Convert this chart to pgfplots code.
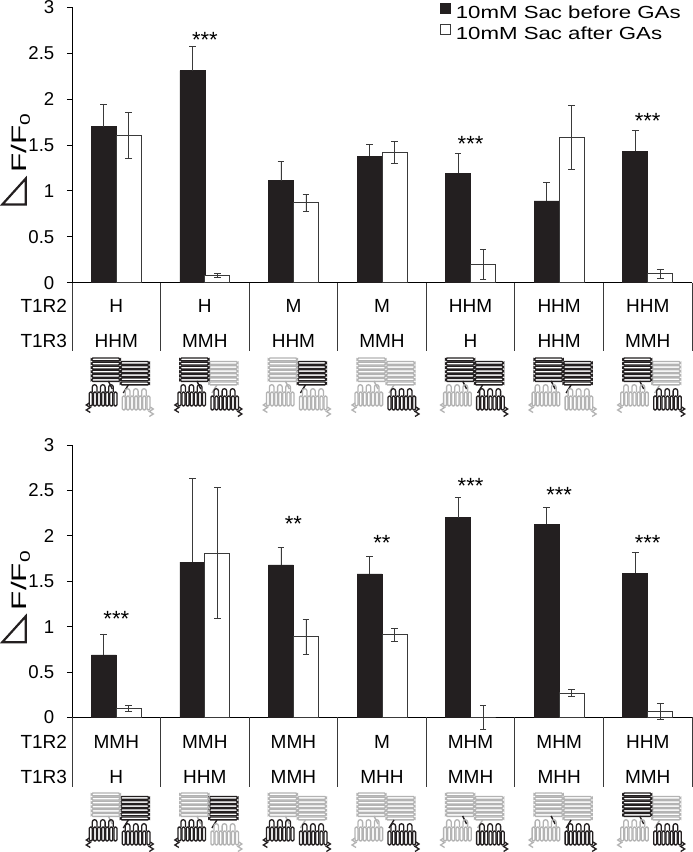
\documentclass[border=0pt]{standalone}
\usepackage{pgfplots}
\usepackage{pgfplotstable}
\pgfplotsset{compat=1.18}
\usepackage{fontspec}
\setmainfont{Liberation Sans}
\newfontfamily\ylabfont[FakeStretch=1.5]{Liberation Sans}
\newfontfamily\legfont[FakeStretch=1.27]{Liberation Sans}

\definecolor{hc}{HTML}{231F20}
\definecolor{mc}{HTML}{B3B3B3}
\definecolor{ec}{HTML}{3A3A3A}

\newcommand{\ylab}{{\ylabfont\fontsize{21}{21}\selectfont F/F\raisebox{-3.5pt}{\fontsize{14}{14}\selectfont 0}}}
\newcommand{\starfont}{\fontsize{22}{22}\selectfont}
\newcommand{\tabfont}{\fontsize{19}{19}\selectfont}

\pgfplotstableread{
x b be w we
0 1.70 0.24 1.60 0.25
1 2.31 0.26 0.08 0.02
2 1.11 0.21 0.87 0.09
3 1.38 0.13 1.42 0.12
4 1.19 0.22 0.20 0.16
5 0.89 0.20 1.58 0.35
6 1.43 0.23 0.10 0.05
}\topdata

\pgfplotstableread{
x b be w we
0 0.69 0.23 0.10 0.03
1 1.71 0.92 1.81 0.72
2 1.68 0.19 0.89 0.19
3 1.58 0.19 0.91 0.07
4 2.20 0.22 0.00 0.13
5 2.13 0.18 0.27 0.04
6 1.59 0.23 0.07 0.09
}\botdata

\pgfplotsset{
  panel/.style={
    scale only axis, width=620pt, anchor=south west,
    xmin=-0.5, xmax=6.5, ymin=0, ymax=3,
    ybar=0pt, bar width=25pt,
    axis x line*=bottom, axis y line*=left,
    x axis line style={-, line width=0.9pt, black},
    y axis line style={-, line width=0.9pt, black},
    xtick=\empty,
    ytick={0,0.5,1,1.5,2,2.5,3},
    yticklabels={0,0.5,1,1.5,2,2.5,3},
    tick align=outside, major tick length=5pt,
    ytick style={line width=0.9pt, black},
    yticklabel style={font=\fontsize{18.6}{19}\selectfont, inner sep=0pt, xshift=-12.5pt},
    ylabel={\ylab},
    clip=false,
  },
  sqleg/.style={legend image code/.code={\draw[##1, line width=0.7pt] (0pt,-1pt) rectangle (10pt,9pt);}},
  blk/.style={sqleg, fill=hc, draw=hc, line width=0.6pt,
    /pgfplots/error bars/y dir=plus, /pgfplots/error bars/y explicit,
    /pgfplots/error bars/error bar style={line width=0.8pt, ec},
    /pgfplots/error bars/error mark options={rotate=90, mark size=3.3pt, line width=0.8pt, ec}},
  wht/.style={sqleg, fill=white, draw=ec, line width=0.8pt,
    /pgfplots/error bars/y dir=both, /pgfplots/error bars/y explicit,
    /pgfplots/error bars/error bar style={line width=0.8pt, ec},
    /pgfplots/error bars/error mark options={rotate=90, mark size=3.3pt, line width=0.8pt, ec}},
}

% cartoon pieces (relative coordinates, pt)
\newcommand{\vft}[3]{% x0, y0, colour
  \foreach \k in {0,...,5}{\draw[#3, line width=1.4pt, fill=white, rounded corners=1.6pt] (#1,#2-4.1*\k) rectangle (#1+29,#2-4.1*\k-2.9);}}
\newcommand{\tmd}[3]{% x0, ytop of helices, colour
  \foreach \k in {0,2,4}{\draw[#3, line width=1.3pt] (#1+4.1*\k+3,#2) -- (#1+4.1*\k+3,#2+5) arc (180:0:2.3) -- (#1+4.1*\k+7.6,#2);}
  \foreach \k in {0,...,6}{\draw[#3, line width=1.3pt, fill=white, rounded corners=1.2pt] (#1+4.1*\k,#2) rectangle (#1+4.1*\k+3,#2-14);}}
\newcommand{\rcpt}[8]{% cx, ty, lV, lC, lT, rV, rC, rT
  \begin{scope}[shift={(#1,#2)}]
    \vft{4}{-3.5}{#6}
    \vft{-25}{0}{#3}
    \draw[#4, line width=1.4pt] (-8,-23) -- (-4,-31);
    \draw[#7, line width=1.4pt] (12,-27) -- (7,-35);
    \tmd{-27}{-34}{#5}
    \draw[#5, line width=1.3pt] (-27,-45) -- (-30,-47) -- (-26,-49.5) -- (-30,-52) -- (-26,-54.5);
    \tmd{6}{-38}{#8}
    \draw[#8, line width=1.3pt] (34,-49) -- (37,-51) -- (33,-53.5) -- (37,-56) -- (33,-58.5);
  \end{scope}}
% triangle of the "Delta F" label; (x,y) = right-angle corner
\newcommand{\ltri}[2]{\draw[line width=2.2pt, hc, line join=miter] (#1,#2) -- (#1,#2+26) -- (#1-23.5,#2) -- cycle;}

\begin{document}
\begin{tikzpicture}[x=1pt,y=1pt]
\path[use as bounding box] (0,0) rectangle (693,852);

% ---------------- top panel ----------------
\begin{axis}[panel, at={(72pt,569.3pt)}, height=275.4pt,
  every axis y label/.style={at={(axis description cs:-0.0734,0.3874)}, rotate=90, anchor=base west},
  legend style={at={(axis description cs:0.5935,1.0156)}, anchor=north west,
    draw=none, fill=none, inner sep=0pt, row sep=4.5pt, column sep=5pt,
    font=\legfont\fontsize{17.5}{20}\selectfont, nodes={inner sep=0pt}},
  legend cell align=left]
\addplot[blk] table[x=x, y=b, y error=be]{\topdata};
\addplot[wht] table[x=x, y=w, y error=we]{\topdata};
\legend{10mM Sac before GAs, 10mM Sac after GAs}
\node[font=\starfont] at (axis cs:1,2.68) [yshift=-3pt] {***};
\node[font=\starfont] at (axis cs:4,1.54) [yshift=-3pt] {***};
\node[font=\starfont] at (axis cs:6,1.80) [yshift=-3pt] {***};
\end{axis}
\ltri{25.8}{852-204.5}

% table for top panel
\foreach \i in {0,...,7}{\draw[line width=0.9pt, ec] ({72+88.571*\i},569.3) -- ++(0,-68.5);}
\node[anchor=base east, font=\tabfont] at (70.5,{852-312.7}) {T1R2};
\node[anchor=base east, font=\tabfont] at (70.5,{852-347.4}) {T1R3};
\foreach \i/\a/\b in {0/H/HHM,1/H/MMH,2/M/HHM,3/M/MMH,4/HHM/H,5/HHM/HHM,6/HHM/MMH}{
  \node[anchor=base, font=\tabfont] at ({72+88.571*(\i+0.5)},{852-312.7}) {\a};
  \node[anchor=base, font=\tabfont] at ({72+88.571*(\i+0.5)},{852-347.4}) {\b};
}
% cartoons top
\rcpt{116.3}{494}{hc}{hc}{hc}{hc}{hc}{mc}
\rcpt{204.9}{494}{hc}{hc}{hc}{mc}{mc}{hc}
\rcpt{293.4}{494}{mc}{mc}{mc}{hc}{hc}{mc}
\rcpt{382.0}{494}{mc}{mc}{mc}{mc}{mc}{hc}
\rcpt{470.6}{494}{hc}{hc}{mc}{hc}{hc}{hc}
\rcpt{559.1}{494}{hc}{hc}{mc}{hc}{hc}{mc}
\rcpt{647.7}{494}{hc}{hc}{mc}{mc}{mc}{hc}

% ---------------- bottom panel ----------------
\begin{axis}[panel, at={(72pt,134.5pt)}, height=272.5pt,
  every axis y label/.style={at={(axis description cs:-0.0734,0.381)}, rotate=90, anchor=base west}]
\addplot[blk] table[x=x, y=b, y error=be]{\botdata};
\addplot[wht] table[x=x, y=w, y error=we]{\botdata};
\node[font=\starfont] at (axis cs:0,1.12) [yshift=-3pt] {***};
\node[font=\starfont] at (axis cs:2,2.165) [yshift=-3pt] {**};
\node[font=\starfont] at (axis cs:3,1.96) [yshift=-3pt] {**};
\node[font=\starfont] at (axis cs:4,2.58) [yshift=-3pt] {***};
\node[font=\starfont] at (axis cs:5,2.48) [yshift=-3pt] {***};
\node[font=\starfont] at (axis cs:6,1.95) [yshift=-3pt] {***};
\end{axis}
\ltri{25.8}{852-642.2}

\foreach \i in {0,...,7}{\draw[line width=0.9pt, ec] ({72+88.571*\i},134.5) -- ++(0,-69.5);}
\node[anchor=base east, font=\tabfont] at (70.5,{852-748.4}) {T1R2};
\node[anchor=base east, font=\tabfont] at (70.5,{852-783.4}) {T1R3};
\foreach \i/\a/\b in {0/MMH/H,1/MMH/HHM,2/MMH/MMH,3/M/MHH,4/MHM/MMH,5/MHM/MHH,6/HHM/MMH}{
  \node[anchor=base, font=\tabfont] at ({72+88.571*(\i+0.5)},{852-748.4}) {\a};
  \node[anchor=base, font=\tabfont] at ({72+88.571*(\i+0.5)},{852-783.4}) {\b};
}
% cartoons bottom
\rcpt{116.3}{59}{mc}{mc}{hc}{hc}{hc}{hc}
\rcpt{204.9}{59}{mc}{mc}{hc}{hc}{hc}{mc}
\rcpt{293.4}{59}{mc}{mc}{hc}{mc}{mc}{hc}
\rcpt{382.0}{59}{mc}{mc}{mc}{mc}{hc}{hc}
\rcpt{470.6}{59}{mc}{hc}{mc}{mc}{mc}{hc}
\rcpt{559.1}{59}{mc}{hc}{mc}{mc}{hc}{hc}
\rcpt{647.7}{59}{hc}{hc}{mc}{mc}{mc}{hc}
\end{tikzpicture}
\end{document}
